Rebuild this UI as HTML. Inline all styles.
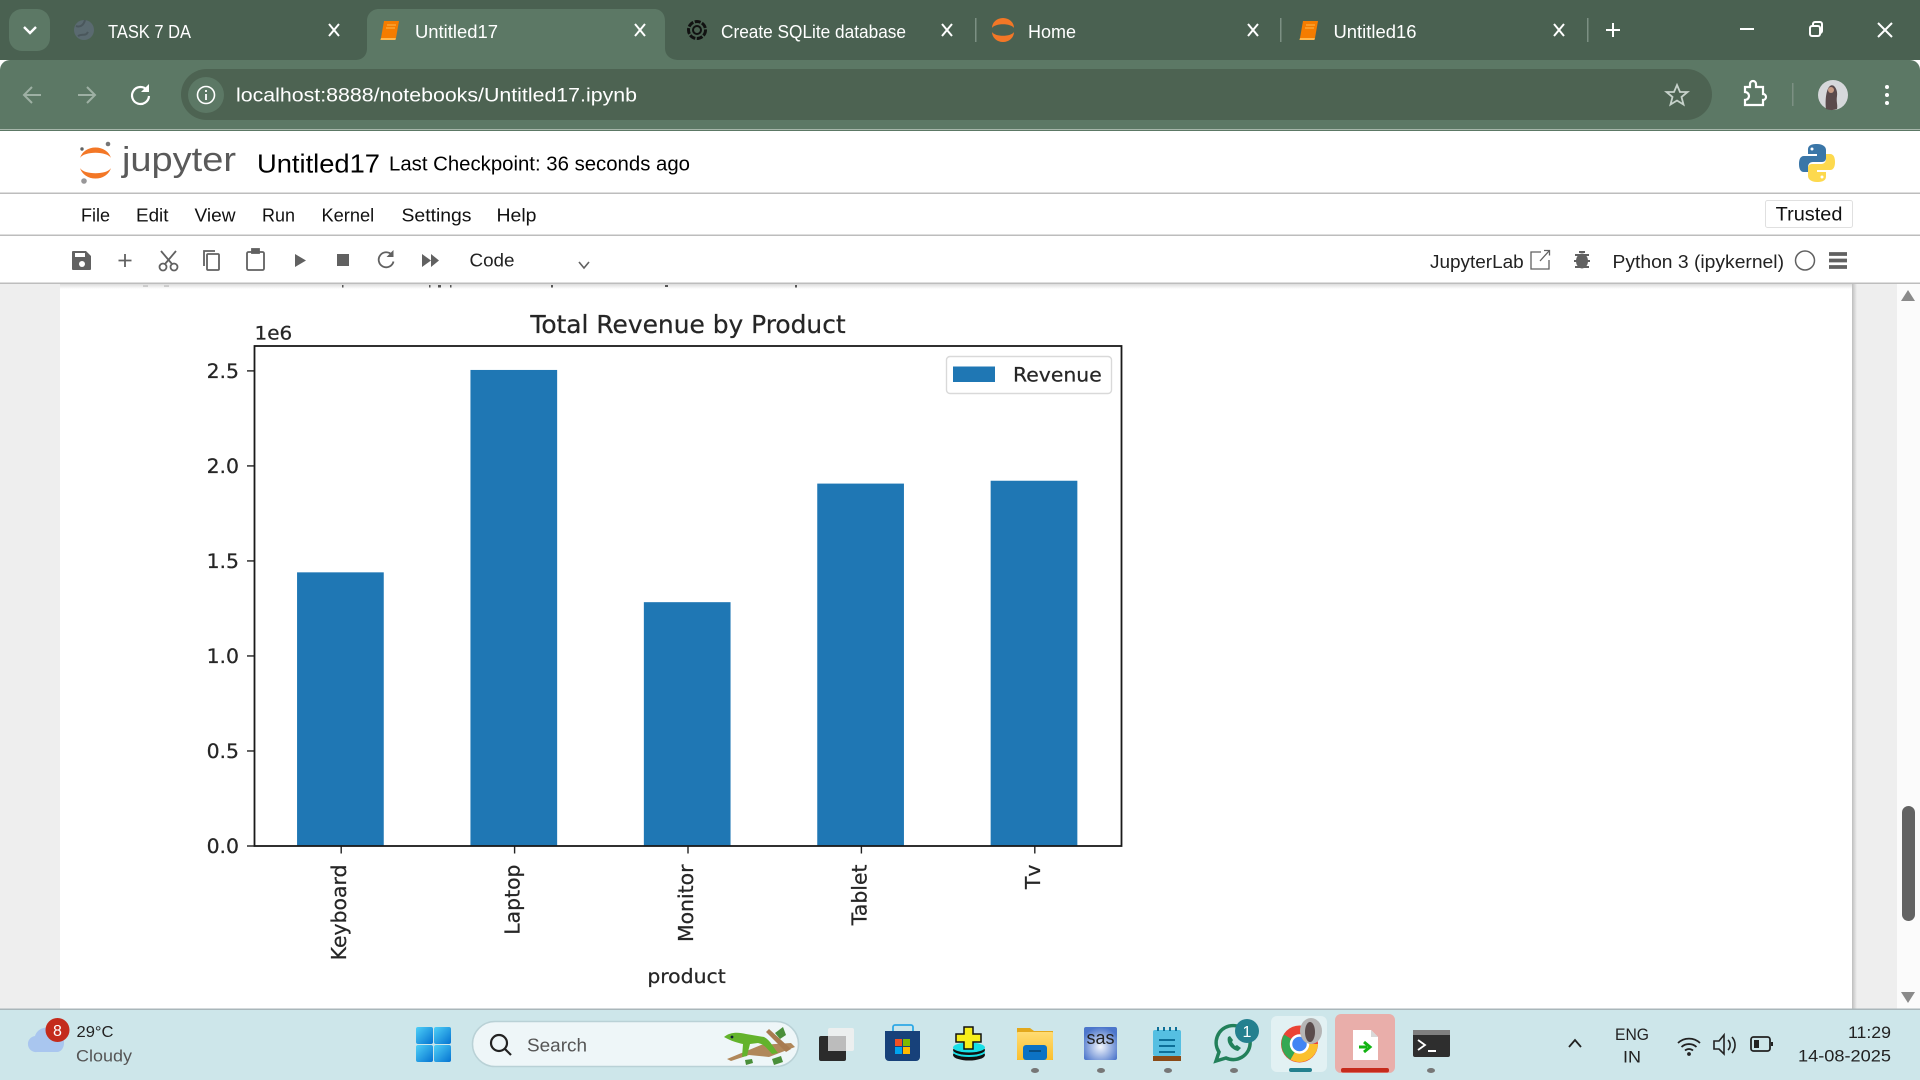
<!DOCTYPE html>
<html lang="en">
<head>
<meta charset="utf-8">
<title>Total Revenue by Product - Jupyter Notebook</title>
<style>
html,body{margin:0;padding:0;width:1920px;height:1080px;overflow:hidden;background:#fff}
svg{position:absolute;left:0;top:0;display:block}
.ui{font-family:"Liberation Sans",sans-serif}
.ch{font-family:"DejaVu Sans","Liberation Sans",sans-serif;fill:#262626}
.ch text{stroke:#262626;stroke-width:.25}
</style>
</head>
<body>
<svg class="ui" width="1920" height="1080" viewBox="0 0 1920 1080">
<defs>
<linearGradient id="shadow" x1="0" y1="0" x2="0" y2="1"><stop offset="0" stop-color="#ddd"/><stop offset="1" stop-color="#fff"/></linearGradient>
<linearGradient id="gutter" x1="0" y1="0" x2="1" y2="0"><stop offset="0" stop-color="#bdbdbd"/><stop offset="1" stop-color="#eee"/></linearGradient>
<linearGradient id="win" x1="0" y1="0" x2="1" y2="1"><stop offset="0" stop-color="#4fd0f7"/><stop offset="1" stop-color="#0573d1"/></linearGradient>
<linearGradient id="fold" x1="0" y1="0" x2="0" y2="1"><stop offset="0" stop-color="#ffdc73"/><stop offset="1" stop-color="#fbc02d"/></linearGradient>
<radialGradient id="sasg" cx=".5" cy=".6" r=".6"><stop offset="0" stop-color="#f2f6fd"/><stop offset="1" stop-color="#4c76cb"/></radialGradient>
</defs>

<!-- browser chrome -->
<rect x="0" y="0" width="1920" height="60" fill="#4a6151"/>
<rect x="0" y="60" width="1920" height="71" rx="10" fill="#5c7865"/>
<rect x="0" y="70" width="1920" height="61" fill="#5c7865"/>
<rect x="0" y="129" width="1920" height="1" fill="#a6b6aa"/>
<rect x="9" y="9" width="41" height="42" rx="13" fill="#5c7865"/>
<path d="M24 27l6 6 6-6" fill="none" stroke="#fff" stroke-width="2.4"/>

<g>
<circle cx="84" cy="30" r="10" fill="#5a6a70"/><path d="M76 26c5 2 8-2 9-6M78 36c5-3 7 1 10-4" stroke="#4a575c" stroke-width="2" fill="none"/>
<text x="108" y="38" font-size="18" fill="#fff" textLength="83" lengthAdjust="spacingAndGlyphs">TASK 7 DA</text>
<path d="M329 24l10 12M339 24l-10 12" stroke="#fff" stroke-width="2"/>
</g>
<path d="M355 60c8 0 12-5 12-12V21c0-7 5-12 12-12h275c7 0 11 5 11 12v27c0 7 5 12 14 12z" fill="#5c7865"/>
<g>
<path d="M384 21h15l-3 17h-15z" fill="#f57c00"/><path d="M387 25h9M386 28h9" stroke="#ffb74d" stroke-width="1"/><path d="M381 38h15l-.6 2h-15z" fill="#ffb74d"/>
<text x="415" y="38" font-size="18" fill="#fff" textLength="83" lengthAdjust="spacingAndGlyphs">Untitled17</text>
<path d="M635 24l10 12M645 24l-10 12" stroke="#fff" stroke-width="2"/>
</g>
<g>
<circle cx="697" cy="30" r="8.500" fill="none" stroke="#111" stroke-width="3" stroke-dasharray="6 1.500"/><circle cx="697" cy="30" r="4" fill="none" stroke="#111" stroke-width="2"/>
<text x="721" y="38" font-size="18" fill="#fff" textLength="185" lengthAdjust="spacingAndGlyphs">Create SQLite database</text>
<path d="M942 24l10 12M952 24l-10 12" stroke="#fff" stroke-width="2"/>
</g>
<rect x="975" y="18" width="1.5" height="24" fill="#7c9083"/>
<g>
<path d="M992 28a11 10 0 0 1 22 0c-3-5-19-5-22 0zM992 32a11 10 0 0 0 22 0c-3 5-19 5-22 0z" fill="#f37726"/>
<text x="1028" y="38" font-size="18" fill="#fff" textLength="48" lengthAdjust="spacingAndGlyphs">Home</text>
<path d="M1248 24l10 12M1258 24l-10 12" stroke="#fff" stroke-width="2"/>
</g>
<rect x="1280" y="18" width="1.5" height="24" fill="#7c9083"/>
<g>
<path d="M1303 21h15l-3 17h-15z" fill="#f57c00"/><path d="M1306 25h9M1305 28h9" stroke="#ffb74d" stroke-width="1"/><path d="M1300 38h15l-.6 2h-15z" fill="#ffb74d"/>
<text x="1333.5" y="38" font-size="18" fill="#fff" textLength="83" lengthAdjust="spacingAndGlyphs">Untitled16</text>
<path d="M1554 24l10 12M1564 24l-10 12" stroke="#fff" stroke-width="2"/>
</g>
<rect x="1587" y="18" width="1.5" height="24" fill="#7c9083"/>
<path d="M1613 23v14M1606 30h14" stroke="#fff" stroke-width="2"/>
<path d="M1740 29h14" stroke="#fff" stroke-width="2"/>
<g fill="none" stroke="#fff" stroke-width="2"><rect x="1810" y="26" width="10" height="10" rx="2"/><path d="M1813 26v-2a2 2 0 0 1 2-2h5a2 2 0 0 1 2 2v7a2 2 0 0 1-2 2"/></g>
<path d="M1878 23l14 14M1892 23l-14 14" stroke="#fff" stroke-width="2"/>

<path d="M41 95h-16M32 87l-8 8 8 8" stroke="#9eb0a4" stroke-width="2" fill="none"/>
<path d="M78 95h16M87 87l8 8-8 8" stroke="#9eb0a4" stroke-width="2" fill="none"/>
<g><path d="M147 90a8.5 8.5 0 1 0 2 6" fill="none" stroke="#fff" stroke-width="2.2"/><path d="M149 84v8h-8z" fill="#fff"/></g>
<rect x="181" y="69" width="1531" height="51" rx="25.5" fill="#4d6352"/>
<circle cx="206" cy="95" r="18" fill="#5c7865"/>
<g><circle cx="206" cy="95" r="8.5" fill="none" stroke="#fff" stroke-width="1.6"/><path d="M206 94v6M206 90v2" stroke="#fff" stroke-width="1.8"/></g>
<text x="236" y="101.5" font-size="19.5" fill="#fff" textLength="401" lengthAdjust="spacingAndGlyphs">localhost:8888/notebooks/Untitled17.ipynb</text>
<path d="M1677 85l3 7h7.500l-6 5 2 7.500-6.500-4-6.500 4 2-7.500-6-5h7.500z" fill="none" stroke="#c6d1ca" stroke-width="1.8"/>
<path d="M1745 87h5v-3a3 3 0 0 1 6 0v3h7v7a3 3 0 0 1 0 6v5h-18v-5a3 3 0 0 0 0-8z" fill="none" stroke="#fff" stroke-width="2.200"/>
<rect x="1792" y="83" width="1.500" height="23" fill="#7c9083"/>
<g><circle cx="1833" cy="95" r="15" fill="#d6d8db"/><path d="M1826 109c-1-8 0-20 4-23s8 4 7 10 1 9 0 13a15 15 0 0 1-11 0z" fill="#5a4a4c"/><circle cx="1831" cy="90" r="3" fill="#c79b85"/></g>
<g fill="#fff"><circle cx="1887" cy="87" r="2"/><circle cx="1887" cy="95" r="2"/><circle cx="1887" cy="103" r="2"/></g>

<!-- jupyter header -->
<rect x="0" y="131" width="1920" height="152" fill="#fff"/>
<g>
<path d="M80 158a16 14 0 0 1 31 0c-4-7-27-7-31 0zM80 168a16 14 0 0 0 31 0c-4 7-27 7-31 0z" fill="#f37726"/>
<circle cx="108" cy="144" r="2.300" fill="#767677"/><circle cx="84" cy="181" r="2.800" fill="#989798"/><circle cx="82" cy="149" r="1.700" fill="#616262"/>
<text x="122" y="171" font-size="34" fill="#5a5a5a" textLength="114" lengthAdjust="spacingAndGlyphs">jupyter</text>
</g>
<text x="257" y="172.500" font-size="26" fill="#000" textLength="123" lengthAdjust="spacingAndGlyphs">Untitled17</text>
<text x="389" y="170.500" font-size="20.500" fill="#000" textLength="301" lengthAdjust="spacingAndGlyphs">Last Checkpoint: 36 seconds ago</text>
<g transform="translate(1 0)">
<path d="M1816 144c-8 0-9 3-9 6v4h9v2h-13c-4 0-5 4-5 8s1 8 5 8h4v-5c0-3 2-5 5-5h9c3 0 4-2 4-4v-8c0-3-3-6-9-6z" fill="#3a76a8"/>
<path d="M1816 182c8 0 9-3 9-6v-4h-9v-2h13c4 0 5-4 5-8s-1-8-5-8h-4v5c0 3-2 5-5 5h-9c-3 0-4 2-4 4v8c0 3 3 6 9 6z" fill="#fdd94e"/>
<circle cx="1811" cy="149" r="1.500" fill="#fff"/><circle cx="1821" cy="177" r="1.500" fill="#fff"/>
</g>
<rect x="0" y="192.500" width="1920" height="1.500" fill="#bdbdbd"/>

<!-- menu -->
<g font-size="18.800" fill="#111">
<text x="81" y="221.500" textLength="29" lengthAdjust="spacingAndGlyphs">File</text>
<text x="136" y="221.500" textLength="32.500" lengthAdjust="spacingAndGlyphs">Edit</text>
<text x="194.500" y="221.500" textLength="41" lengthAdjust="spacingAndGlyphs">View</text>
<text x="262" y="221.500" textLength="33" lengthAdjust="spacingAndGlyphs">Run</text>
<text x="321.500" y="221.500" textLength="52.700" lengthAdjust="spacingAndGlyphs">Kernel</text>
<text x="401.500" y="221.500" textLength="70" lengthAdjust="spacingAndGlyphs">Settings</text>
<text x="496.500" y="221.500" textLength="40" lengthAdjust="spacingAndGlyphs">Help</text>
</g>
<g>
<rect x="1765.500" y="200.500" width="87" height="27" rx="2" fill="#fff" stroke="#e0e0e0"/>
<text x="1775.700" y="220.700" font-size="19.500" fill="#111" textLength="66.700" lengthAdjust="spacingAndGlyphs">Trusted</text>
</g>
<rect x="0" y="234.500" width="1920" height="1.500" fill="#bdbdbd"/>

<!-- toolbar -->
<g><path d="M73 251h13l5 5v13a1 1 0 0 1-1 1H73a1 1 0 0 1-1-1v-17a1 1 0 0 1 1-1z" fill="#616161"/><rect x="75" y="253" width="10" height="4" fill="#fff"/><circle cx="82" cy="264" r="3" fill="#fff"/></g>
<path d="M125 254v13M118.500 260.500h13" stroke="#616161" stroke-width="1.800"/>
<g fill="none" stroke="#616161" stroke-width="1.800"><circle cx="163" cy="267" r="3.500"/><circle cx="174" cy="267" r="3.500"/><path d="M165 264l11-13M172 264l-11-13"/></g>
<g fill="none" stroke="#616161" stroke-width="1.800"><path d="M204 266v-15h11"/><rect x="207" y="254" width="12" height="16" rx="1"/></g>
<g fill="none" stroke="#616161" stroke-width="1.800"><rect x="247" y="252" width="17" height="18" rx="1.500"/><rect x="252" y="249" width="7" height="4" fill="#616161"/></g>
<path d="M295 254l11 6.500-11 6.500z" fill="#616161"/>
<rect x="337" y="254" width="12" height="12" fill="#616161"/>
<g><path d="M392 255a7.500 7.500 0 1 0 1.500 6.500" fill="none" stroke="#616161" stroke-width="1.800"/><path d="M393.500 250v7h-7z" fill="#616161"/></g>
<path d="M422 254l9 6.500-9 6.500zM431 254l8 6.500-8 6.500z" fill="#616161"/>
<text x="469.500" y="266.700" font-size="18.800" fill="#222" textLength="45" lengthAdjust="spacingAndGlyphs">Code</text>
<path d="M579 262l5 6 5-6" fill="none" stroke="#616161" stroke-width="1.600"/>
<text x="1430" y="268" font-size="18.800" fill="#222" textLength="93.700" lengthAdjust="spacingAndGlyphs">JupyterLab</text>
<g fill="none" stroke="#616161" stroke-width="1.300"><path d="M1541 252h-10v17h18v-9"/><path d="M1540 261l9-10M1544 250.500h5.500v5"/></g>
<g><ellipse cx="1582" cy="261" rx="6" ry="7.500" fill="#616161"/><path d="M1575 255l14 0M1574 261h16M1575 267h14M1579 252h6" stroke="#616161" stroke-width="2"/></g>
<text x="1612.500" y="268" font-size="18.800" fill="#222" textLength="171.500" lengthAdjust="spacingAndGlyphs">Python 3 (ipykernel)</text>
<circle cx="1805" cy="260.500" r="9.500" fill="none" stroke="#616161" stroke-width="1.500"/>
<path d="M1829 254h18M1829 260.500h18M1829 267h18" stroke="#616161" stroke-width="3.800"/>
<rect x="0" y="282.500" width="1920" height="1.500" fill="#bdbdbd"/>

<!-- notebook area -->
<rect x="0" y="284" width="60" height="726" fill="#eee"/>
<rect x="60" y="284" width="1792" height="726" fill="#fff"/>
<rect x="1852" y="284" width="45" height="726" fill="#eee"/>
<rect x="1852" y="284" width="5" height="726" fill="url(#gutter)"/>
<rect x="1897" y="284" width="23" height="726" fill="#fbfbfb"/>
<path d="M1901 301l7-11 7 11z" fill="#8a8a8a"/>
<rect x="1902" y="806" width="13" height="115" rx="6.500" fill="#636363"/>
<path d="M1901 992l7 11 7-11z" fill="#8a8a8a"/>
<rect x="60" y="284" width="1792" height="5" fill="url(#shadow)"/>
<g fill="#555"><rect x="342" y="285" width="1.500" height="2.500"/><rect x="429" y="285" width="1.500" height="2.500"/><rect x="438" y="285" width="3" height="2.500"/><rect x="450" y="285" width="1.500" height="2.500"/><rect x="551" y="285" width="2" height="2.500"/><rect x="665" y="285" width="3" height="2"/><rect x="795" y="285" width="2" height="2.500"/><rect x="143" y="285" width="5" height="2" fill="#ccc"/><rect x="164" y="285" width="5" height="2" fill="#ccc"/></g>

<!-- taskbar -->
<rect x="0" y="1008.500" width="1920" height="1.500" fill="#a9b6ba"/>
<rect x="0" y="1010" width="1920" height="70" fill="#cde6ea"/>
<g>
<path d="M37 1052a8 8 0 0 1-2-16 12 11 0 0 1 22-3 10 10 0 0 1 7 10c0 5-3 9-7 9z" fill="#a9c6ef"/>
<circle cx="57.500" cy="1030" r="12" fill="#c42b1c"/>
<text x="57.500" y="1036" font-size="16" fill="#fff" text-anchor="middle">8</text>
<text x="76.500" y="1037" font-size="16" fill="#222" textLength="37" lengthAdjust="spacingAndGlyphs">29°C</text>
<text x="76" y="1061.700" font-size="16.500" fill="#555" textLength="56" lengthAdjust="spacingAndGlyphs">Cloudy</text>
</g>
<g><rect x="416" y="1027" width="17" height="17" rx="2" fill="url(#win)"/><rect x="434" y="1027" width="17" height="17" rx="2" fill="url(#win)"/><rect x="416" y="1045" width="17" height="17" rx="2" fill="url(#win)"/><rect x="434" y="1045" width="17" height="17" rx="2" fill="url(#win)"/></g>
<g>
<rect x="472.500" y="1021.500" width="326" height="45" rx="22.500" fill="#eef6f8" stroke="#b9d1d6" stroke-width="1.500"/>
<circle cx="499" cy="1043" r="8" fill="none" stroke="#222" stroke-width="2.200"/><path d="M505 1049l6 6" stroke="#222" stroke-width="2.200"/>
<text x="527" y="1051.700" font-size="18.800" fill="#555" textLength="60" lengthAdjust="spacingAndGlyphs">Search</text>
</g>
<g>
<path d="M727 1059l34-14 30-2 4 4-26 10-20-2-18 6z" fill="#b0875a"/>
<path d="M769 1029l22 20-5 3-20-20z" fill="#a87b50"/>
<path d="M724 1037c6-5 14-5 22-3l18 3c6 3 9 10 14 16l-6 1c-5-6-9-10-14-11l-8 1-3 12-5 1 1-13c-5-1-12-3-19-7z" fill="#63b32c"/>
<path d="M775 1033l8-6 3 8-6 4zM772 1059l9-3 2 6-9 3zM745 1060l7-1 1 4-7 2z" fill="#4a8f3a"/>
<circle cx="732" cy="1037" r="1.400" fill="#123"/>
</g>
<g><rect x="819" y="1036" width="27" height="25" rx="2" fill="#2b2b2b"/><rect x="828" y="1028" width="26" height="23" rx="2" fill="#efefef" opacity=".9"/><rect x="828" y="1036" width="18" height="15" fill="#bcbcbc"/></g>
<g><path d="M893 1031v-4a2 2 0 0 1 2-2h16a2 2 0 0 1 2 2v4" fill="none" stroke="#2ea9e6" stroke-width="1.800"/><path d="M885 1031h35v26a4 4 0 0 1-4 4h-27a4 4 0 0 1-4-4z" fill="#17417a"/><rect x="895" y="1039" width="7" height="7" fill="#f25022"/><rect x="903" y="1039" width="7" height="7" fill="#7fba00"/><rect x="895" y="1047" width="7" height="7" fill="#00a4ef"/><rect x="903" y="1047" width="7" height="7" fill="#ffb900"/></g>
<g><ellipse cx="969" cy="1055" rx="16" ry="5.500" fill="#111"/><ellipse cx="969" cy="1052" rx="16" ry="5" fill="#18dfe6"/><ellipse cx="969" cy="1050" rx="16" ry="5" fill="#111"/><ellipse cx="969" cy="1047.500" rx="16" ry="5" fill="#18dfe6"/><path d="M964 1027h9v7h8v8h-8v7h-9v-7h-8v-8h8z" fill="#f6ee1b" stroke="#111" stroke-width="1.500"/></g>
<g><path d="M1017 1028h13l4 3h19v29h-36z" fill="#e3a81c"/><rect x="1017" y="1032" width="36" height="28" rx="1" fill="url(#fold)"/><rect x="1023" y="1045" width="24" height="15" rx="3" fill="#0c72c4"/><path d="M1029 1051h12" stroke="#07426f" stroke-width="1.500"/></g>
<g><rect x="1084" y="1027" width="33" height="33" rx="2" fill="url(#sasg)"/><text x="1100.500" y="1044" font-size="18" fill="#222" text-anchor="middle" textLength="28" lengthAdjust="spacingAndGlyphs">sas</text></g>
<g><rect x="1153" y="1030" width="28" height="26" rx="2" fill="#55bfe2"/><rect x="1153" y="1056" width="28" height="5" fill="#8a4b17"/><path d="M1159 1040h16M1159 1046h16M1159 1052h16" stroke="#0d6f98" stroke-width="2"/><path d="M1158 1027v4M1164 1027v4M1170 1027v4M1176 1027v4" stroke="#0d6f98" stroke-width="2"/></g>
<g><path d="M1216 1061l3-9a17 17 0 1 1 7 6z" fill="#cde6ea" stroke="#22805a" stroke-width="3.500"/><path d="M1228 1037c-2 6 4 13 10 14l3-3-4-3-2 1-3-4 1-2-3-4z" fill="#22805a"/><circle cx="1247" cy="1031" r="12" fill="#24808f"/><text x="1247" y="1037" font-size="16" fill="#fff" text-anchor="middle">1</text></g>
<rect x="1271" y="1016" width="56" height="56" rx="6" fill="#e2f1f3"/>
<g>
<circle cx="1299.500" cy="1044" r="18.500" fill="#ea4335"/>
<path d="M1299.500 1044l-9 15.600a18.500 18.500 0 0 1-9-15.600 18.500 18.500 0 0 1 2.500-9.500z" fill="#34a853"/>
<path d="M1299.500 1044h18.500a18.500 18.500 0 0 1-27.500 15.600z" fill="#fbc02d"/>
<circle cx="1299.500" cy="1044" r="8.500" fill="#4285f4" stroke="#fff" stroke-width="2.500"/>
<ellipse cx="1311" cy="1031" rx="11" ry="13" fill="#b5b5b5"/><ellipse cx="1310" cy="1032" rx="5" ry="10" fill="#5a4c4c"/>
</g>
<rect x="1289" y="1068" width="23" height="4" rx="2" fill="#24808f"/>
<rect x="1335" y="1014" width="60" height="59" rx="6" fill="#e9aeaa"/>
<g><path d="M1353 1030h18l7 7v23h-25z" fill="#fff"/><path d="M1371 1030v7h7z" fill="#d8d8d8"/><path d="M1359 1047h8M1364 1042l6 5-6 5" fill="none" stroke="#12b312" stroke-width="3"/></g>
<rect x="1341" y="1068" width="48" height="4.500" rx="2" fill="#c62b1c"/>
<g><rect x="1413" y="1030" width="37" height="27" rx="2" fill="#2e2e2e"/><rect x="1413" y="1030" width="37" height="5" fill="#7f7f7f"/><path d="M1418 1040l7 5-7 5" fill="none" stroke="#fff" stroke-width="1.800"/><path d="M1428 1051h8" stroke="#fff" stroke-width="2"/></g>
<g fill="#777"><ellipse cx="1035" cy="1070.500" rx="4" ry="2.500"/><ellipse cx="1101" cy="1070.500" rx="4" ry="2.500"/><ellipse cx="1168" cy="1070.500" rx="4" ry="2.500"/><ellipse cx="1234" cy="1070.500" rx="4" ry="2.500"/><ellipse cx="1431" cy="1070.500" rx="4" ry="2.500"/></g>
<path d="M1569 1047l6-7 6 7" fill="none" stroke="#222" stroke-width="1.800"/>
<g fill="#222">
<text x="1615" y="1040" font-size="16.500" textLength="34" lengthAdjust="spacingAndGlyphs">ENG</text>
<text x="1623" y="1062.700" font-size="16.500" textLength="18" lengthAdjust="spacingAndGlyphs">IN</text>
</g>
<g fill="none" stroke="#222" stroke-width="1.800"><path d="M1678 1043a16 16 0 0 1 22 0M1681.500 1047a11 11 0 0 1 15 0M1685 1050.500a6 6 0 0 1 8 0"/><circle cx="1689" cy="1054" r="1" fill="#222"/></g>
<g fill="none" stroke="#222" stroke-width="1.600"><path d="M1714 1041h5l5-6v19l-5-5h-5z"/><path d="M1728 1040a7 7 0 0 1 0 10M1732 1037a12 12 0 0 1 0 16"/></g>
<g><rect x="1751" y="1037" width="19" height="14" rx="2.500" fill="none" stroke="#222" stroke-width="1.800"/><rect x="1754" y="1040" width="5" height="8" fill="#222"/><rect x="1771" y="1042" width="2" height="4" fill="#222"/></g>
<g fill="#222">
<text x="1848" y="1038" font-size="16.500" textLength="43" lengthAdjust="spacingAndGlyphs">11:29</text>
<text x="1798" y="1061.700" font-size="16.500" textLength="93" lengthAdjust="spacingAndGlyphs">14-08-2025</text>
</g>
</svg>

<svg id="chart" class="ch" width="1920" height="1080" viewBox="0 0 1920 1080"></svg>

<script>
const categories = ["Keyboard", "Laptop", "Monitor", "Tablet", "Tv"];
const revenue = [1440000, 2505000, 1283000, 1907000, 1922000];
const yTicks = [0, 500000, 1000000, 1500000, 2000000, 2500000];
const yTickLabels = ["0.0", "0.5", "1.0", "1.5", "2.0", "2.5"];
const seriesName = "Revenue";
const chartTitle = "Total Revenue by Product";
const xAxisTitle = "product";
const offsetLabel = "1e6";

const plot = { left: 254.5, right: 1121.5, top: 346, bottom: 846 };
const yMax = 2631000;
const barColor = "#1f77b4";
const NS = "http://www.w3.org/2000/svg";
const svg = document.getElementById("chart");

function xScale(i) {
  const band = (plot.right - plot.left) / categories.length;
  return plot.left + band * (i + 0.5);
}
function bandWidth() {
  return (plot.right - plot.left) / categories.length * 0.5;
}
function yScale(v) {
  return plot.bottom - (v / yMax) * (plot.bottom - plot.top);
}
function make(tag, attrs, text) {
  const el = document.createElementNS(NS, tag);
  for (const k in attrs) el.setAttribute(k, attrs[k]);
  if (text !== undefined) el.textContent = text;
  svg.appendChild(el);
  return el;
}

categories.forEach(function (name, i) {
  const bar = make("rect", { x: xScale(i) - 0.8 - bandWidth() / 2, y: yScale(revenue[i]), width: bandWidth(), height: plot.bottom - yScale(revenue[i]), fill: barColor });
  
  
  const tick = make("line", { x1: xScale(i), x2: xScale(i), y1: plot.bottom, y2: plot.bottom + 7.5, stroke: "#222", "stroke-width": 1.4 });
  
  
  const tx = xScale(i) + 5;
  const label = make("text", { x: 0, y: 0, transform: "translate(" + tx + " 864.5) rotate(-90)", "text-anchor": "end", "font-size": 20.4 }, name);
  
  
});

yTicks.forEach(function (v, i) {
  const tick = make("line", { x1: plot.left - 7.5, x2: plot.left, y1: yScale(v), y2: yScale(v), stroke: "#222", "stroke-width": 1.4 });
  
  
  const ty = yScale(v) + 7.2;
  const label = make("text", { x: 0, y: 0, transform: "translate(239 " + ty + ") scale(1 .95)", "text-anchor": "end", "font-size": 20.4 }, yTickLabels[i]);
  
  
});

const frame = make("rect", { x: plot.left, y: plot.top, width: plot.right - plot.left, height: plot.bottom - plot.top, fill: "none", stroke: "#1a1a1a", "stroke-width": 1.8 });



const title = make("text", { x: 0, y: 0, transform: "translate(" + (plot.left + plot.right) / 2 + " 333)", "text-anchor": "middle", "font-size": 24.9 }, chartTitle);



const offset = make("text", { x: 0, y: 0, transform: "translate(254.5 339.5) scale(1 .95)", "font-size": 20 }, offsetLabel);



const xTitle = make("text", { x: 0, y: 0, transform: "translate(" + ((plot.left + plot.right) / 2 - 1.5) + " 983) scale(1 .95)", "text-anchor": "middle", "font-size": 20.4 }, xAxisTitle);



const legendBox = make("rect", { x: 946.5, y: 356.5, width: 165, height: 37, rx: 3.5, fill: "#fff", stroke: "#d9d9d9", "stroke-width": 1.4 });


const legendPatch = make("rect", { x: 953, y: 366.5, width: 42, height: 15.5, fill: barColor });


const legendText = make("text", { x: 0, y: 0, transform: "translate(1013 381.5) scale(1 .95)", "font-size": 20.4 }, seriesName);


</script>
</body>
</html>
